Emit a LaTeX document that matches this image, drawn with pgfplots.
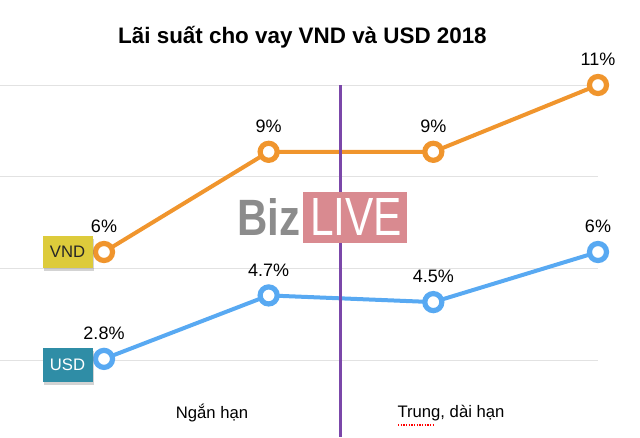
\documentclass[border=0pt]{standalone}
\usepackage{fontspec}
\setmainfont{Liberation Sans}
\usepackage{pgfplots}
\pgfplotsset{compat=1.18}
\usetikzlibrary{shadows}
\definecolor{vndc}{HTML}{F0952D}
\definecolor{usdc}{HTML}{58A9F2}
\definecolor{gridc}{HTML}{E2E2E2}
\definecolor{purp}{HTML}{7B47A9}
\definecolor{ybox}{HTML}{DDCB3B}
\definecolor{tbox}{HTML}{2F8DA6}
\definecolor{pinkbox}{HTML}{D98A90}
\definecolor{bizgray}{HTML}{8C8C8C}
\begin{document}
\begin{tikzpicture}
\useasboundingbox (0,0) rectangle (480pt,327.75pt);
\begin{axis}[at={(0,0)}, anchor=south west, scale only axis,
  width=480pt, height=327.75pt,
  xmin=-0.6316, xmax=3.2551, ymin=0.461, ymax=13.545,
  axis lines=none, clip=false,
  /pgf/number format/assume math mode=true,
  every axis plot/.append style={line width=3pt, mark=*, mark size=6.4pt,
    mark options={fill=white, line width=3.9pt}},
  nodes near coords={\pgfmathprintnumber{\pgfplotspointmeta}\%},
  point meta=y,
  every node near coord/.append style={anchor=center, yshift=19pt,
    font=\fontsize{13.5}{15}\selectfont, text=black},
]
\draw[gridc, line width=0.75pt] (axis cs:-0.6316,2.75) -- (axis cs:3,2.75);
\draw[gridc, line width=0.75pt] (axis cs:-0.6316,5.5) -- (axis cs:3,5.5);
\draw[gridc, line width=0.75pt] (axis cs:-0.6316,8.25) -- (axis cs:3,8.25);
\draw[gridc, line width=0.75pt] (axis cs:-0.6316,11) -- (axis cs:3,11);
\addplot[vndc] coordinates {(0,6) (1,9) (2,9) (3,11)};
\addplot[usdc] coordinates {(0,2.8) (1,4.7) (2,4.5) (3,6)};
\draw[purp, line width=2.25pt] (axis cs:1.439,11) -- (axis cs:1.439,0.461);
\end{axis}
\begin{scope}[x=0.75pt, y=-0.75pt, yshift=327.75pt]
  \node[font=\fontsize{16.8}{20}\selectfont\bfseries] at (302.5,37) {Lãi suất cho vay VND và USD 2018};
  \node[font=\fontsize{12.5}{14}\selectfont] at (212,413) {Ngắn hạn};
  \node[font=\fontsize{12.5}{14}\selectfont] at (451,413) {Trung, dài hạn};
  \draw[red, densely dotted, line width=1pt] (398,425) -- (433,425);
  % watermark
  \fill[pinkbox] (303,192) rectangle (407,243);
  \node[anchor=base west, inner sep=0pt, text=bizgray] at (237,235) {\resizebox{47.25pt}{27.75pt}{\bfseries Biz}};
  \node[anchor=base west, inner sep=0pt, text=white] at (310,235) {\resizebox{69pt}{27.75pt}{LIVE}};
  % series tags
  \node[fill=ybox, minimum width=37.5pt, minimum height=24pt, inner sep=0pt,
    drop shadow={opacity=0.35, shadow xshift=1pt, shadow yshift=-2pt},
    font=\fontsize{12.5}{14}\selectfont, text=black!85] at (67.5,252) {VND};
  \node[fill=tbox, minimum width=37.5pt, minimum height=25.5pt, inner sep=0pt,
    drop shadow={opacity=0.35, shadow xshift=1pt, shadow yshift=-2pt},
    font=\fontsize{12.5}{14}\selectfont, text=white] at (67.5,365) {USD};
\end{scope}
\end{tikzpicture}
\end{document}
